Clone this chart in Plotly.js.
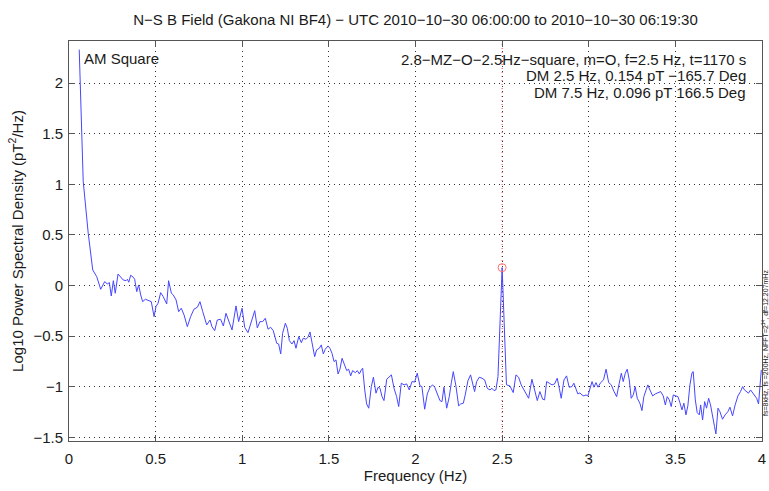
<!DOCTYPE html>
<html>
<head>
<meta charset="utf-8">
<script src="https://cdn.plot.ly/plotly-3.0.1.min.js"></script>
<style>
  html, body { margin: 0; padding: 0; background: #fff; }
  #chart { width: 769px; height: 491px; }
</style>
</head>
<body>
<div id="chart"></div>
<script>
// N-S magnetic field power spectrum, Gakona NI BF4
const freqHz = [
  0.059, 0.082, 0.111, 0.137, 0.160, 0.183, 0.206, 0.221, 0.233, 0.244,
  0.256, 0.267, 0.283, 0.298, 0.313, 0.329, 0.337, 0.345, 0.356, 0.371,
  0.379, 0.391, 0.402, 0.414, 0.425, 0.441, 0.460, 0.475, 0.491, 0.502,
  0.514, 0.529, 0.544, 0.564, 0.575, 0.591, 0.602, 0.618, 0.633, 0.648,
  0.664, 0.683, 0.702, 0.721, 0.741, 0.756, 0.772, 0.795, 0.814, 0.825,
  0.841, 0.856, 0.875, 0.891, 0.906, 0.922, 0.941, 0.964, 0.979, 0.999,
  1.014, 1.033, 1.052, 1.072, 1.087, 1.102, 1.118, 1.133, 1.149, 1.164,
  1.179, 1.199, 1.210, 1.222, 1.233, 1.249, 1.260, 1.272, 1.287, 1.299,
  1.310, 1.326, 1.341, 1.352, 1.368, 1.379, 1.391, 1.406, 1.418, 1.429,
  1.445, 1.456, 1.468, 1.479, 1.495, 1.506, 1.518, 1.530, 1.541, 1.553,
  1.564, 1.576, 1.587, 1.603, 1.614, 1.626, 1.637, 1.653, 1.664, 1.676,
  1.687, 1.695, 1.707, 1.718, 1.730, 1.745, 1.757, 1.772, 1.784, 1.795,
  1.807, 1.818, 1.834, 1.849, 1.861, 1.876, 1.891, 1.903, 1.918, 1.934,
  1.949, 1.964, 1.980, 1.995, 2.010, 2.026, 2.037, 2.053, 2.068, 2.084,
  2.099, 2.111, 2.126, 2.141, 2.153, 2.164, 2.180, 2.195, 2.207, 2.218,
  2.234, 2.249, 2.261, 2.276, 2.287, 2.303, 2.318, 2.330, 2.341, 2.353,
  2.368, 2.384, 2.399, 2.414, 2.430, 2.441, 2.453, 2.464, 2.476, 2.500,
  2.514, 2.525, 2.545, 2.564, 2.580, 2.595, 2.610, 2.626, 2.641, 2.653,
  2.672, 2.688, 2.703, 2.718, 2.734, 2.745, 2.757, 2.772, 2.788, 2.803,
  2.818, 2.830, 2.841, 2.857, 2.872, 2.887, 2.903, 2.914, 2.926, 2.937,
  2.949, 2.960, 2.972, 2.984, 2.995, 3.007, 3.019, 3.030, 3.042, 3.053,
  3.069, 3.085, 3.100, 3.115, 3.130, 3.146, 3.161, 3.176, 3.188, 3.199,
  3.211, 3.222, 3.234, 3.245, 3.257, 3.268, 3.280, 3.295, 3.307, 3.318,
  3.330, 3.341, 3.353, 3.369, 3.384, 3.400, 3.415, 3.430, 3.442, 3.453,
  3.465, 3.476, 3.488, 3.503, 3.515, 3.526, 3.538, 3.549, 3.561, 3.572,
  3.584, 3.596, 3.603, 3.615, 3.626, 3.638, 3.646, 3.657, 3.669, 3.680,
  3.692, 3.703, 3.715, 3.726, 3.734, 3.746, 3.757, 3.772, 3.787, 3.803,
  3.815, 3.830, 3.845, 3.861, 3.876, 3.888, 3.899, 3.911, 3.922, 3.934,
  3.946, 3.957, 3.969, 3.980, 3.988, 3.996
];

const log10Psd = [
   2.330,  1.030,  0.516,  0.154,  0.088, -0.037,  0.039,  0.016,  0.029, -0.103,
   0.048, -0.076,  0.114,  0.088,  0.055,  0.048,  0.062,  0.033,  0.102,  0.082,
   0.062, -0.060,  0.006, -0.093, -0.159, -0.135, -0.149, -0.159, -0.307, -0.208,
  -0.175, -0.070, -0.110, -0.182,  0.048, -0.076, -0.093, -0.142, -0.258, -0.224,
  -0.290, -0.406, -0.307, -0.234, -0.214, -0.159, -0.258, -0.389, -0.340, -0.406,
  -0.445, -0.340, -0.333, -0.399, -0.274, -0.356, -0.438, -0.201, -0.356, -0.224,
  -0.412, -0.465, -0.360, -0.248, -0.418, -0.356, -0.356, -0.323, -0.431, -0.412,
  -0.445, -0.570, -0.577, -0.675, -0.471, -0.372, -0.422, -0.544, -0.577, -0.544,
  -0.619, -0.504, -0.564, -0.520, -0.530, -0.510, -0.458, -0.586, -0.702, -0.636,
  -0.619, -0.586, -0.675, -0.629, -0.596, -0.619, -0.669, -0.751, -0.734, -0.873,
  -0.826, -0.718, -0.774, -0.840, -0.826, -0.892, -0.840, -0.860, -0.840, -0.873,
  -0.833, -0.816, -1.031, -1.169, -1.211, -0.998, -0.905, -1.063, -1.004, -1.014,
  -1.097, -1.136, -0.925, -0.897, -0.882, -1.014, -1.097, -1.195, -0.964, -0.981,
  -0.971, -1.031, -0.948, -0.953, -0.866, -0.991, -0.998, -1.221, -1.070, -1.004,
  -0.981, -1.004, -1.063, -1.136, -1.146, -1.004, -1.211, -1.097, -0.958, -0.850,
  -0.998, -1.188, -1.169, -1.162, -1.080, -0.938, -0.882, -0.964, -1.047, -0.948,
  -0.905, -0.915, -0.932, -1.014, -1.031, -1.014, -1.037, -1.031, -0.899,  0.177,
  -0.550, -0.980, -0.991, -1.057, -0.882, -0.905, -0.981, -1.031, -1.070, -1.113,
  -0.925, -1.024, -1.136, -1.047, -1.122, -1.129, -0.948, -0.964, -0.981, -0.971,
  -0.915, -1.014, -1.113, -0.932, -0.892, -1.004, -0.998, -0.964, -1.014, -1.070,
  -1.060, -1.080, -1.090, -1.080, -1.090, -1.014, -0.948, -1.004, -0.958, -1.004,
  -0.958, -0.932, -0.826, -0.958, -0.981, -1.047, -1.097, -0.964, -0.866, -0.948,
  -0.866, -0.826, -0.932, -1.113, -1.080, -0.998, -1.113, -1.162, -1.235, -1.097,
  -1.037, -0.981, -1.031, -1.090, -1.070, -1.057, -1.047, -1.090, -1.179, -1.097,
  -1.129, -1.195, -1.080, -1.090, -1.097, -1.156, -1.228, -1.162, -1.277, -1.188,
  -0.981, -0.860, -0.850, -1.129, -1.254, -1.277, -1.179, -1.327, -1.146, -1.211,
  -1.113, -1.179, -1.310, -1.393, -1.465, -1.211, -1.245, -1.320, -1.277, -1.245,
  -1.201, -1.287, -1.179, -1.090, -1.047, -0.998, -1.031, -1.047, -1.063, -1.031,
  -1.063, -1.090, -1.113, -1.169, -0.964, -0.833
];

// Drive-modulation frequency (marked with the red line and circle)
const dmFreq = 2.5;

const xTicks = [0, 0.5, 1, 1.5, 2, 2.5, 3, 3.5, 4];
const yTicks = [-1.5, -1, -0.5, 0, 0.5, 1, 1.5, 2];

const titleText = 'N\u2212S B Field (Gakona NI BF4) \u2212 UTC 2010\u221210\u221230 06:00:00 to 2010\u221210\u221230 06:19:30';
const infoLines = [
  '2.8\u2212MZ\u2212O\u22122.5Hz\u2212square, m=O, f=2.5 Hz, t=1170 s',
  'DM 2.5 Hz, 0.154 pT \u2212165.7 Deg',
  'DM 7.5 Hz, 0.096 pT 166.5 Deg'
];
const modeLabel = 'AM Square';
const sideNote = 'fs=8kHz, fs =200Hz, NFFT=2<sup>14</sup>, df=12.207mHz';

const peakIdx = freqHz.indexOf(dmFreq);

const FONT = 'Liberation Sans, Arial, Helvetica, sans-serif';
const FS = 15;
const ink = '#1a1a1a';

const spectrum = {
  x: freqHz, y: log10Psd, type: 'scatter', mode: 'lines',
  line: { color: 'rgb(70,70,255)', width: 1 },
  hoverinfo: 'x+y', showlegend: false
};

const peakMark = {
  x: [freqHz[peakIdx]], y: [log10Psd[peakIdx]], type: 'scatter', mode: 'markers',
  marker: { symbol: 'circle-open', size: 8, color: 'rgb(255,110,110)', line: { width: 1 } },
  showlegend: false
};

const axisCommon = {
  showgrid: true, gridcolor: '#333', gridwidth: 1, griddash: '1px,4px',
  zeroline: false, showline: true, linecolor: '#555', linewidth: 1,
  mirror: 'allticks', ticks: 'inside', ticklen: 6, tickcolor: '#555',
  tickfont: { family: FONT, size: FS, color: ink }
};

const lineAnn = (txt, yPaper) => ({
  text: txt, xref: 'paper', yref: 'paper', x: 0.98, y: yPaper,
  xanchor: 'right', yanchor: 'middle', showarrow: false,
  font: { family: FONT, size: FS, color: ink }
});

const layout = {
  width: 769, height: 491,
  margin: { l: 69, r: 7, t: 41, b: 50 },
  paper_bgcolor: '#fff', plot_bgcolor: '#fff',
  title: {
    text: titleText, font: { family: FONT, size: FS, color: ink },
    x: 0.5403, xref: 'container', xanchor: 'center',
    y: 1 - 20 / 491, yref: 'container', yanchor: 'middle'
  },
  xaxis: Object.assign({}, axisCommon, {
    range: [0, 4], tickvals: xTicks, ticklabelstandoff: 4,
    title: { text: 'Frequency (Hz)', font: { family: FONT, size: FS, color: ink }, standoff: 0 }
  }),
  yaxis: Object.assign({}, axisCommon, {
    range: [-1.535, 2.415], tickvals: yTicks, ticklabelstandoff: 2,
    title: { text: 'Log10 Power Spectral Density (pT<sup>2</sup>/Hz)', font: { family: FONT, size: FS, color: ink }, standoff: 6 }
  }),
  shapes: [{
    type: 'line', xref: 'x', yref: 'paper', x0: dmFreq, x1: dmFreq, y0: 0, y1: 1,
    line: { color: 'rgb(255,60,60)', width: 1, dash: '1px,3px' }, layer: 'below'
  }],
  annotations: [
    {
      text: modeLabel, xref: 'paper', yref: 'paper', x: 0.019, y: 0.957,
      xanchor: 'left', yanchor: 'middle', showarrow: false,
      font: { family: FONT, size: FS, color: ink }
    },
    lineAnn(infoLines[0], 0.955),
    lineAnn(infoLines[1], 0.913),
    lineAnn(infoLines[2], 0.872),
    {
      text: sideNote, xref: 'paper', yref: 'paper', x: 1.0043, y: 0.245,
      xanchor: 'center', yanchor: 'middle', textangle: -90, showarrow: false,
      borderpad: 0,
      font: { family: FONT, size: 7, color: ink }
    }
  ]
};

Plotly.newPlot('chart', [spectrum, peakMark], layout, { displayModeBar: false, staticPlot: true });
</script>
</body>
</html>
